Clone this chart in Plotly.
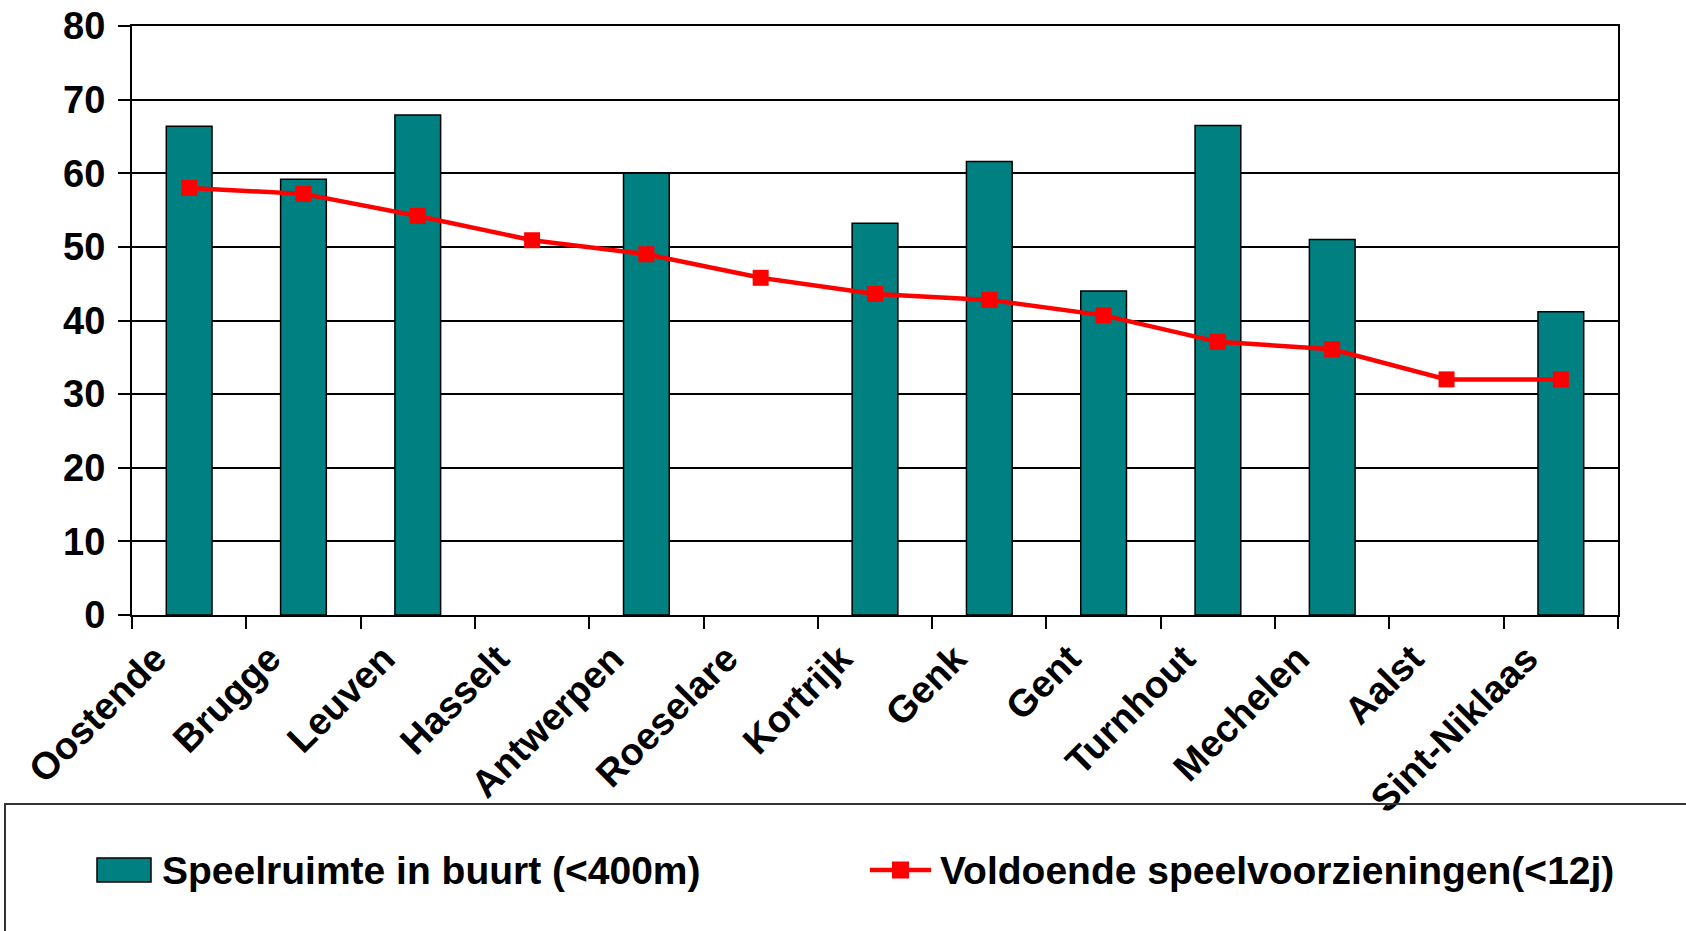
import plotly.graph_objects as go

categories = ["Oostende", "Brugge", "Leuven", "Hasselt", "Antwerpen", "Roeselare",
              "Kortrijk", "Genk", "Gent", "Turnhout", "Mechelen", "Aalst", "Sint-Niklaas"]
speelruimte = [66.4, 59.2, 67.9, None, 60.0, None, 53.2, 61.6, 44.0, 66.5, 51.0, None, 41.2]
voldoende = [58.0, 57.2, 54.2, 50.9, 49.0, 45.8, 43.6, 42.8, 40.7, 37.1, 36.1, 32.0, 32.0]
y_ticks = [0, 10, 20, 30, 40, 50, 60, 70, 80]

name_bar = "Speelruimte in buurt (<400m)"
name_line = "Voldoende speelvoorzieningen(<12j)"

FONT = "Liberation Sans, Arial, sans-serif"
W, H = 1686, 931
# target plot area in page pixels: left 132, right 1618, top 26, bottom 615
L, R, T, B = 132, W - 1618, 26, H - 615
PW, PH = W - L - R, H - T - B

def px(x):
    return (x - L) / PW

def py(y):
    return (H - B - y) / PH

fig = go.Figure()
fig.add_trace(go.Bar(
    x=categories, y=speelruimte, name=name_bar, width=0.4,
    marker=dict(color="#008080", line=dict(color="black", width=1.5)),
    showlegend=False,
))
fig.add_trace(go.Scatter(
    x=categories, y=voldoende, name=name_line, mode="lines+markers",
    line=dict(color="#FF0000", width=4.5),
    marker=dict(symbol="square", size=16, color="#FF0000"),
    showlegend=False,
))

shapes = [
    # legend frame
    dict(type="rect", xref="paper", yref="paper", x0=px(5), x1=px(1720), y0=py(804), y1=py(960),
         line=dict(color="#333333", width=2), fillcolor="rgba(0,0,0,0)", layer="above"),
    # legend symbol: bar
    dict(type="rect", xref="paper", yref="paper", x0=px(97), x1=px(151), y0=py(858), y1=py(882),
         line=dict(color="black", width=1.5), fillcolor="#008080"),
    # legend symbol: line
    dict(type="line", xref="paper", yref="paper", x0=px(870), x1=px(931), y0=py(870), y1=py(870),
         line=dict(color="#FF0000", width=4.5)),
    dict(type="rect", xref="paper", yref="paper", x0=px(892), x1=px(909), y0=py(861.5), y1=py(878.5),
         line=dict(color="#FF0000", width=0), fillcolor="#FF0000"),
]
annotations = [
    dict(text="<b>" + name_bar + "</b>", xref="paper", yref="paper", x=px(160), y=py(870),
         xanchor="left", yanchor="middle", showarrow=False,
         font=dict(family=FONT, size=39, color="black")),
    dict(text="<b>" + name_line + "</b>", xref="paper", yref="paper", x=px(938), y=py(870),
         xanchor="left", yanchor="middle", showarrow=False,
         font=dict(family=FONT, size=39, color="black")),
]

fig.update_layout(
    width=W, height=H,
    margin=dict(l=L, r=R, t=T, b=B, pad=0, autoexpand=False),
    plot_bgcolor="white", paper_bgcolor="white",
    font=dict(family=FONT, size=38, color="black"),
    shapes=shapes, annotations=annotations,
    bargap=0.6,
)
fig.update_xaxes(
    type="category", categoryorder="array", categoryarray=categories,
    range=[-0.5, len(categories) - 0.5], autorange=False, automargin=False,
    tickmode="array", tickvals=categories, ticktext=["<b>" + c + "</b>" for c in categories],
    tickangle=-45, tickson="boundaries", ticks="outside", ticklen=12, tickwidth=1.5, tickcolor="black",
    ticklabelshift=-34, ticklabelstandoff=4,
    showline=True, linecolor="black", linewidth=2, mirror=True, showgrid=False,
    tickfont=dict(family=FONT, size=38, color="black"),
)
fig.update_yaxes(
    range=[0, 80], autorange=False, automargin=False, tickmode="array", tickvals=y_ticks,
    ticktext=["<b>%d</b>" % v for v in y_ticks],
    ticks="outside", ticklen=12, tickwidth=1.5, tickcolor="black", ticklabelstandoff=5,
    ticklabeloverflow="allow",
    showline=True, linecolor="black", linewidth=2, mirror=True,
    showgrid=True, gridcolor="black", gridwidth=1.5, zeroline=False,
    tickfont=dict(family=FONT, size=38, color="black"),
)

fig.write_html("out.html", config={"displayModeBar": False},
               post_script="document.body.style.margin='0';")
